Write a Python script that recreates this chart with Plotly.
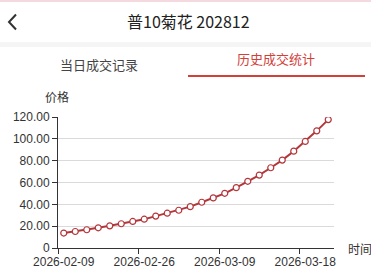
import plotly.graph_objects as go

dates = ["2026-02-09", "2026-02-10", "2026-02-11", "2026-02-12", "2026-02-13",
         "2026-02-24", "2026-02-25", "2026-02-26", "2026-02-27", "2026-03-02",
         "2026-03-03", "2026-03-04", "2026-03-05", "2026-03-06", "2026-03-09",
         "2026-03-10", "2026-03-11", "2026-03-12", "2026-03-13", "2026-03-16",
         "2026-03-17", "2026-03-18", "2026-03-19", "2026-03-20"]
prices = [13.7, 15.1, 16.7, 18.5, 20.3, 22.2, 24.3, 26.4, 29.2, 31.9,
          34.6, 37.9, 41.9, 45.9, 50.1, 55.3, 61.1, 66.8, 73.5, 80.5,
          88.7, 97.6, 107.3, 117.6]
y_tick_vals = [0, 20, 40, 60, 80, 100, 120]
y_tick_text = ["0", "20.00", "40.00", "60.00", "80.00", "100.00", "120.00"]

title_text = "普10菊花 202812"
tab_left = "当日成交记录"
tab_right = "历史成交统计"

LINE_RED = "#b3363a"
TAB_RED = "#d2403a"
FONT = "Liberation Sans, Noto Sans CJK SC, sans-serif"
CJK = "Noto Sans CJK SC, sans-serif"

W, H = 371, 270
L, R, T, B = 58, 37, 117, 22
pw, ph = W - L - R, H - T - B


def px(x):
    return (x - L) / pw


def py(y):
    return (H - B - y) / ph


fig = go.Figure()
fig.add_trace(go.Scatter(
    x=dates, y=prices, mode="lines+markers",
    line=dict(color=LINE_RED, width=2),
    marker=dict(size=6, color="white", line=dict(color=LINE_RED, width=1.2)),
    hoverinfo="skip", showlegend=False,
))

shapes = [
    dict(type="rect", xref="paper", yref="paper", x0=px(0), x1=px(W), y0=py(2), y1=py(0),
         fillcolor="#f4d9df", line=dict(width=0), layer="above"),
    dict(type="rect", xref="paper", yref="paper", x0=px(0), x1=px(W), y0=py(47), y1=py(42),
         fillcolor="#f5f5f5", line=dict(width=0), layer="above"),
    dict(type="rect", xref="paper", yref="paper", x0=px(188), x1=px(365), y0=py(77), y1=py(75),
         fillcolor=TAB_RED, line=dict(width=0), layer="above"),
    dict(type="path", xref="paper", yref="paper",
         path=f"M {px(16)},{py(14.5)} L {px(9)},{py(22)} L {px(16)},{py(29.5)}",
         line=dict(color="#333333", width=2), layer="above"),
]

annotations = [
    dict(text=title_text, x=px(188), y=py(21), xref="paper", yref="paper",
         showarrow=False, xanchor="center", yanchor="middle",
         font=dict(family=CJK, size=16, color="#222222")),
    dict(text=tab_left, x=px(99), y=py(64), xref="paper", yref="paper",
         showarrow=False, xanchor="center", yanchor="middle",
         font=dict(family=CJK, size=13, color="#444444")),
    dict(text=tab_right, x=px(276), y=py(59), xref="paper", yref="paper",
         showarrow=False, xanchor="center", yanchor="middle",
         font=dict(family=CJK, size=13, color=TAB_RED)),
    dict(text="价格", x=px(57), y=py(96), xref="paper", yref="paper",
         showarrow=False, xanchor="center", yanchor="middle",
         font=dict(family=CJK, size=12, color="#333333")),
    dict(text="时间", x=px(360), y=py(248), xref="paper", yref="paper",
         showarrow=False, xanchor="center", yanchor="middle",
         font=dict(family=CJK, size=12, color="#333333")),
]

fig.update_layout(
    width=W, height=H,
    margin=dict(l=L, r=R, t=T, b=B, pad=0, autoexpand=False),
    paper_bgcolor="white", plot_bgcolor="white",
    font=dict(family=FONT, size=12, color="#333333"),
    xaxis=dict(
        type="category", range=[-0.5, len(dates) - 0.5],
        tickmode="linear", tick0=0, dtick=7, tickson="boundaries",
        tickangle=0, automargin=False, ticklabelstandoff=3,
        showgrid=False, zeroline=False,
        showline=True, linecolor="#333333", linewidth=1,
        ticks="outside", ticklen=5, tickcolor="#333333",
        tickfont=dict(family=FONT, size=12, color="#333333"),
        fixedrange=True,
    ),
    yaxis=dict(
        range=[0, 120], tickmode="array", tickvals=y_tick_vals, ticktext=y_tick_text,
        automargin=False,
        showgrid=True, gridcolor="#dadada", gridwidth=1, zeroline=False,
        showline=True, linecolor="#333333", linewidth=1,
        ticks="outside", ticklen=5, tickcolor="#333333",
        tickfont=dict(family=FONT, size=12, color="#333333"),
        fixedrange=True,
    ),
    shapes=shapes,
    annotations=annotations,
)

fig.write_html("out.html", config={"displayModeBar": False})
